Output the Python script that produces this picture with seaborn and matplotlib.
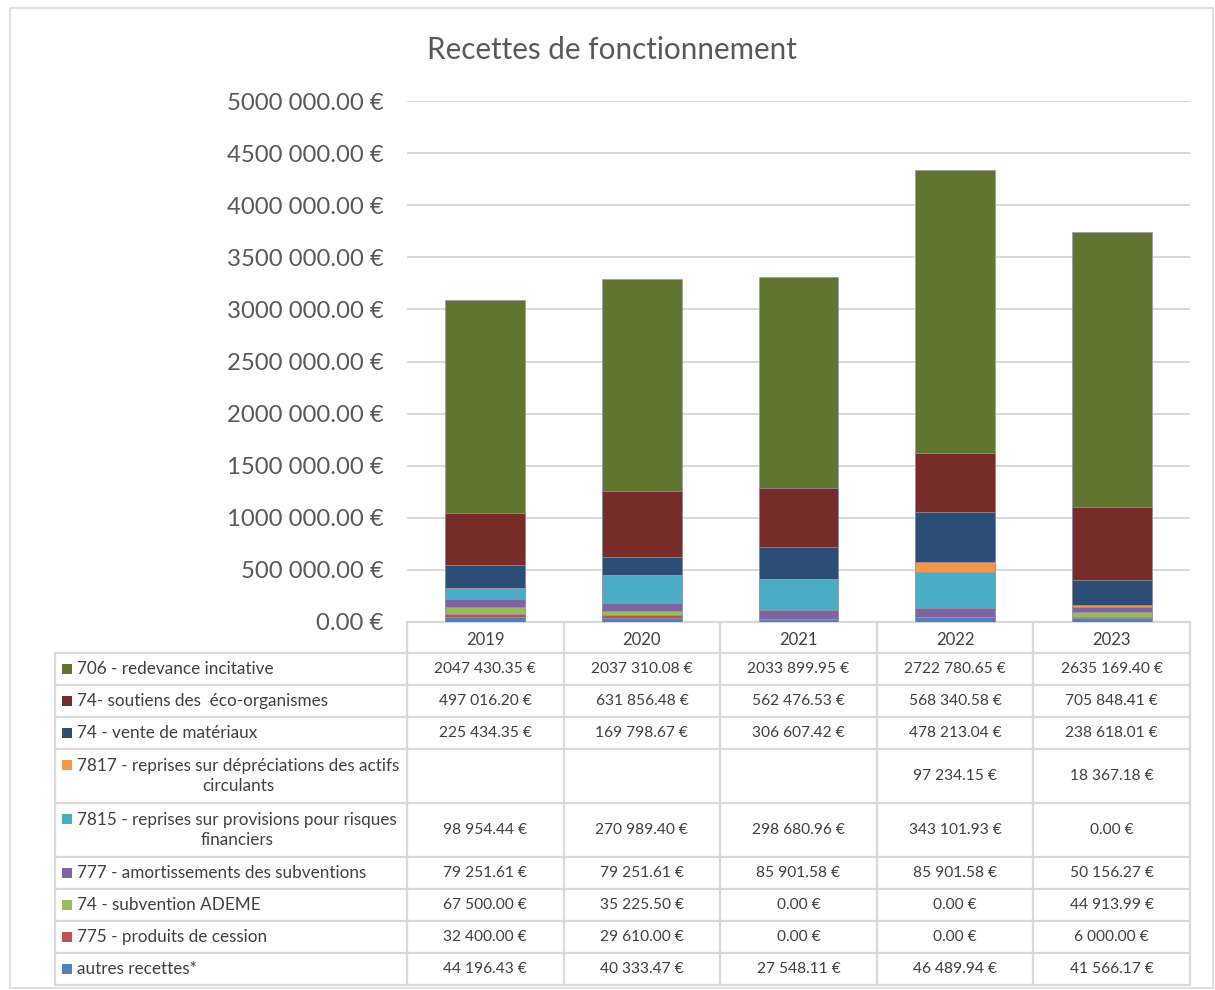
import numpy as np
import pandas as pd
import seaborn as sns
import matplotlib.pyplot as plt
from matplotlib.patches import Rectangle

years = ["2019", "2020", "2021", "2022", "2023"]
categories = [
    "706 - redevance incitative",
    "74- soutiens des  éco-organismes",
    "74 - vente de matériaux",
    "7817 - reprises sur dépréciations des actifs\ncirculants",
    "7815 - reprises sur provisions pour risques\nfinanciers",
    "777 - amortissements des subventions",
    "74 - subvention ADEME",
    "775 - produits de cession",
    "autres recettes*",
]
redevance = [2047430.35, 2037310.08, 2033899.95, 2722780.65, 2635169.40]
soutiens = [497016.20, 631856.48, 562476.53, 568340.58, 705848.41]
vente = [225434.35, 169798.67, 306607.42, 478213.04, 238618.01]
depreciations = [None, None, None, 97234.15, 18367.18]
provisions = [98954.44, 270989.40, 298680.96, 343101.93, 0.00]
amortissements = [79251.61, 79251.61, 85901.58, 85901.58, 50156.27]
ademe = [67500.00, 35225.50, 0.00, 0.00, 44913.99]
cession = [32400.00, 29610.00, 0.00, 0.00, 6000.00]
autres = [44196.43, 40333.47, 27548.11, 46489.94, 41566.17]
series = [redevance, soutiens, vente, depreciations, provisions,
          amortissements, ademe, cession, autres]
colors = ["#5F7530", "#772C2A", "#2C4D75", "#F79646", "#4BACC6",
          "#8064A2", "#9BBB59", "#C0504D", "#4F81BD"]

TXT = "#595959"


def euro(v):
    ip, dp = f"{v:.2f}".split(".")
    if len(ip) > 3:
        ip = ip[:-3] + " " + ip[-3:]
    return f"{ip}.{dp} €"


# missing values count as zero in the bars
vals = pd.DataFrame({c: [0.0 if v is None else v for v in s]
                     for c, s in zip(categories, series)}, index=years)
# top of each segment = that layer plus everything stacked below it
tops = vals[categories[::-1]].cumsum(axis=1)[categories]

sns.set_theme(style="white")
plt.rcParams["font.family"] = ["Lato", "DejaVu Sans"]

W, H = 1215, 990
fig = plt.figure(figsize=(W / 100, H / 100), dpi=100)

# overlay in pixel coordinates for the frame, title and data table
tab = fig.add_axes([0, 0, 1, 1])
tab.set_xlim(0, W)
tab.set_ylim(H, 0)
tab.axis("off")

ax = fig.add_axes([407 / W, 1 - 622 / H, 783 / W, (622 - 101) / H])
ax.set_facecolor("none")

# stacked bars: draw the cumulative totals, tallest first
for cat, col in zip(categories, colors):
    sns.barplot(x=years, y=tops[cat].values, color=col, saturation=1,
                width=0.51, edgecolor="#9a9aa8", linewidth=0.5, ax=ax)

ax.set_ylim(0, 5e6)
ax.set_xlim(-0.5, 4.5)
ticks = np.arange(0, 5e6 + 1, 5e5)
ax.set_yticks(ticks)
ax.set_yticklabels([euro(t) for t in ticks], fontsize=17.2, color=TXT)
ax.tick_params(axis="y", length=0, pad=17)
ax.tick_params(axis="x", length=0, pad=7, labelsize=12, labelcolor="#404040")
ax.yaxis.grid(True, color="#d9d9d9", linewidth=1.4)
ax.set_axisbelow(True)
for s in ax.spines.values():
    s.set_visible(False)
ax.set_xlabel("")
ax.set_ylabel("")

# chart frame and title
tab.add_patch(Rectangle((10, 8), 1203, 980, fill=False,
                        edgecolor="#d9d9d9", linewidth=1.2))
tab.text(612, 50, "Recettes de fonctionnement", ha="center", va="center",
         fontsize=21.3, color=TXT)

# data table
line = dict(color="#d9d9d9", linewidth=1.6)
col_x = [407 + k * 783 / 5 for k in range(6)]
left = 55
tab.plot([col_x[0], col_x[-1]], [622, 622], **line)
y = 653
tab.plot([left, col_x[-1]], [y, y], **line)
row_edges = [y]
for cat in categories:
    y += 54 if "\n" in cat else 32
    row_edges.append(y)
for ye in row_edges[1:]:
    tab.plot([left, col_x[-1]], [ye, ye], **line)
tab.plot([left, left], [653, row_edges[-1]], **line)
for xc in col_x:
    tab.plot([xc, xc], [622, row_edges[-1]], **line)

for i, (cat, col, s) in enumerate(zip(categories, colors, series)):
    yc = (row_edges[i] + row_edges[i + 1]) / 2
    tab.add_patch(Rectangle((62, yc - 5 if "\n" not in cat else yc - 16), 10, 10,
                            facecolor=col, edgecolor="none"))
    tab.text(77, yc, cat, ha="left", va="center", multialignment="center",
             fontsize=12.3, color="#404040", linespacing=1.3)
    for k, v in enumerate(s):
        if v is None:
            continue
        xm = (col_x[k] + col_x[k + 1]) / 2
        tab.text(xm, yc, euro(v), ha="center", va="center",
                 fontsize=11.2, color="#404040")

fig.savefig("out.png", dpi=100, facecolor="white")
